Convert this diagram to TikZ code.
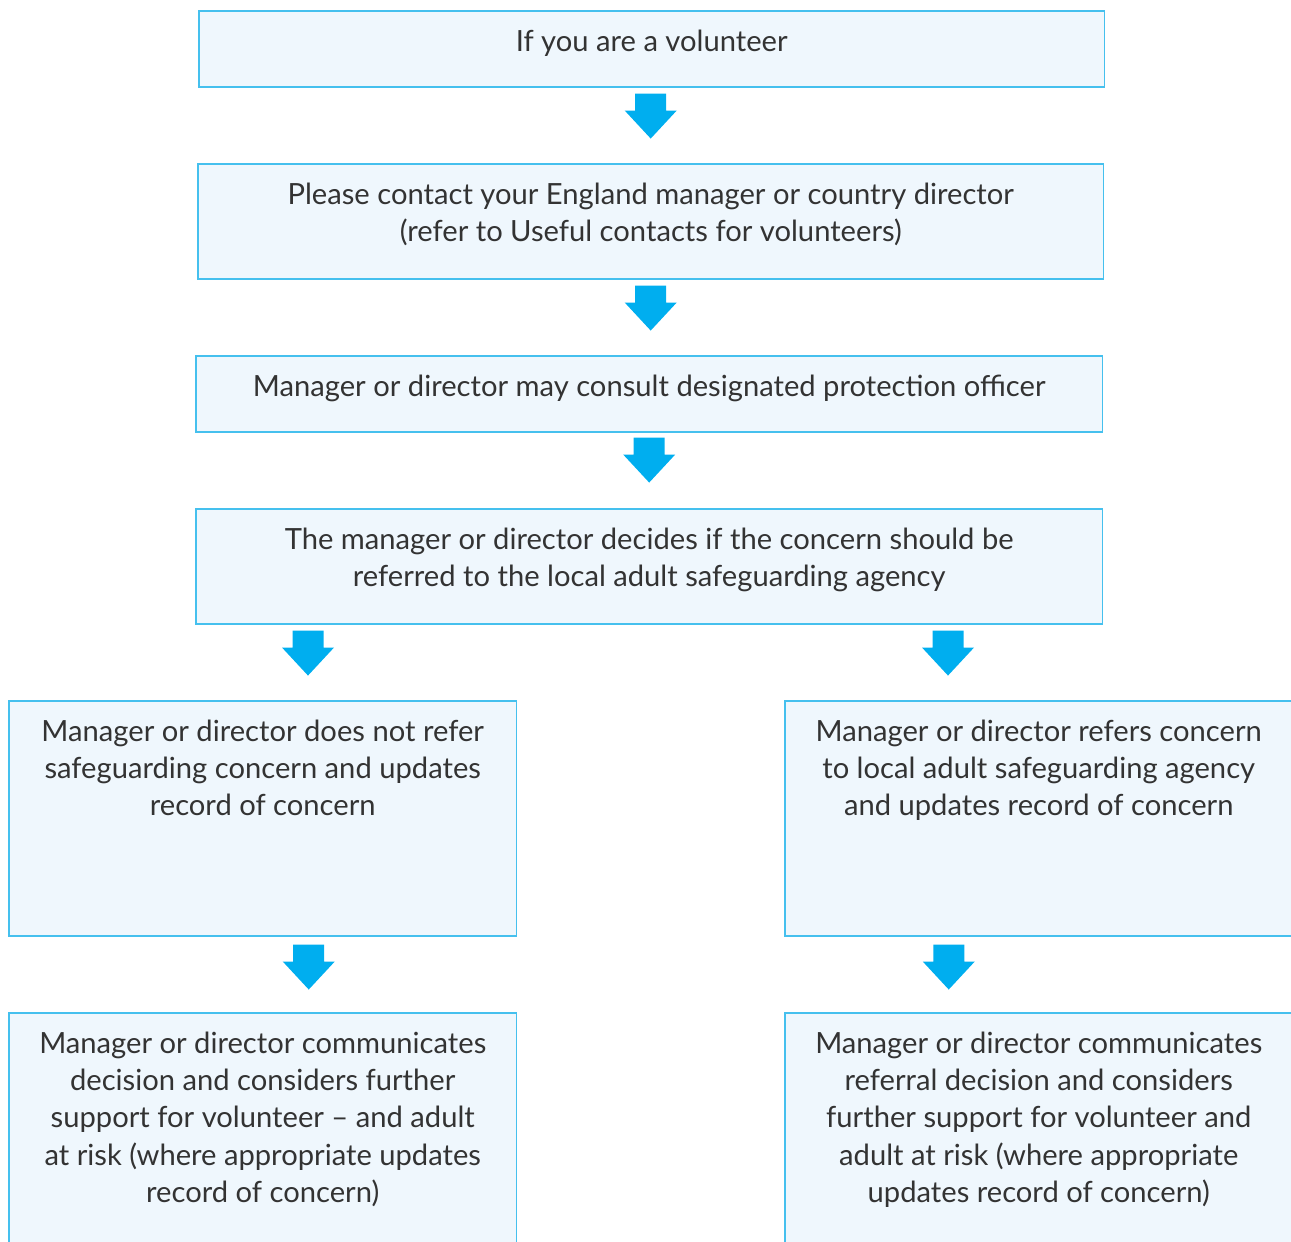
\documentclass[tikz,border=0pt]{standalone}
\usepackage{fontspec}
\setmainfont{Lato}
\usetikzlibrary{calc}

\definecolor{rcblue}{HTML}{00AEEF}
\definecolor{rcline}{HTML}{45C0EE}
\definecolor{rcfill}{HTML}{EFF7FD}
\definecolor{rctext}{HTML}{333333}

\tikzset{
  box/.style={draw=rcline, fill=rcfill, line width=0.9pt, anchor=north west, inner sep=0pt},
  txt/.style={text=rctext, align=center, anchor=north, inner sep=0pt,
    font=\fontsize{16.6}{21.1}\selectfont},
}

% block arrow pointing down, #1 = top middle
\newcommand{\downblock}[1]{%
  \fill[rcblue] (#1) +(-15.5,0) -- +(15.5,0) -- +(15.5,17) -- +(26,17)
    -- +(0,45) -- +(-26,17) -- +(-15.5,17) -- cycle;}

\begin{document}
\begin{tikzpicture}[x=0.02cm, y=-0.02cm]
  \useasboundingbox (0,0) rectangle (1291,1241);
  \clip (0,0) rectangle (1291,1241);

  % main column
  \node[box, minimum width=18.12cm, minimum height=1.52cm] (b1) at (198,10) {};
  \node[txt] (t1) at ($(b1.north)+(0,20)$) {If you are a volunteer};

  \node[box, minimum width=18.12cm, minimum height=2.30cm] (b2) at (197,163) {};
  \node[txt] (t2) at ($(b2.north)+(0,20)$) {Please contact your England manager or country director\\
    (refer to Useful contacts for volunteers)};

  \node[box, minimum width=18.14cm, minimum height=1.52cm] (b3) at (195,355) {};
  \node[txt] (t3) at ($(b3.north)+(0,20)$) {Manager or director may consult designated protection officer};

  \node[box, minimum width=18.14cm, minimum height=2.30cm] (b4) at (195,508) {};
  \node[txt] (t4) at ($(b4.north)+(0,20)$) {The manager or director decides if the concern should be\\
    referred to the local adult safeguarding agency};

  % two branches
  \node[box, minimum width=10.16cm, minimum height=4.70cm] (b5l) at (8,700) {};
  \node[txt] (t5l) at ($(b5l.north)+(0,20)$) {Manager or director does not refer\\
    safeguarding concern and updates\\ record of concern};

  \node[box, minimum width=10.16cm, minimum height=4.70cm] (b5r) at (784,700) {};
  \node[txt] (t5r) at ($(b5r.north)+(0,20)$) {Manager or director refers concern\\
    to local adult safeguarding agency\\ and updates record of concern};

  \node[box, minimum width=10.16cm, minimum height=5.40cm] (b6l) at (8,1012) {};
  \node[txt] (t6l) at ($(b6l.north)+(0,20)$) {Manager or director communicates\\
    decision and considers further\\ support for volunteer -- and adult\\
    at risk (where appropriate updates\\ record of concern)};

  \node[box, minimum width=10.16cm, minimum height=5.40cm] (b6r) at (784,1012) {};
  \node[txt] (t6r) at ($(b6r.north)+(0,20)$) {Manager or director communicates\\
    referral decision and considers\\ further support for volunteer and\\
    adult at risk (where appropriate\\ updates record of concern)};

  % arrows
  \coordinate (a1) at ($(b1.south)+(-1,6)$);
  \coordinate (a2) at ($(b2.south)+(0,6)$);
  \coordinate (a3) at ($(b3.south)+(0,5)$);
  \coordinate (a4l) at ($(b4.south west)+(113,6)$);
  \coordinate (a4r) at ($(b4.south west)+(753,6)$);
  \coordinate (a5l) at ($(b5l.south)+(46,8)$);
  \coordinate (a5r) at ($(b5r.south)+(-90,8)$);
  \foreach \a in {a1,a2,a3,a4l,a4r,a5l,a5r} {\downblock{\a}}
\end{tikzpicture}
\end{document}
